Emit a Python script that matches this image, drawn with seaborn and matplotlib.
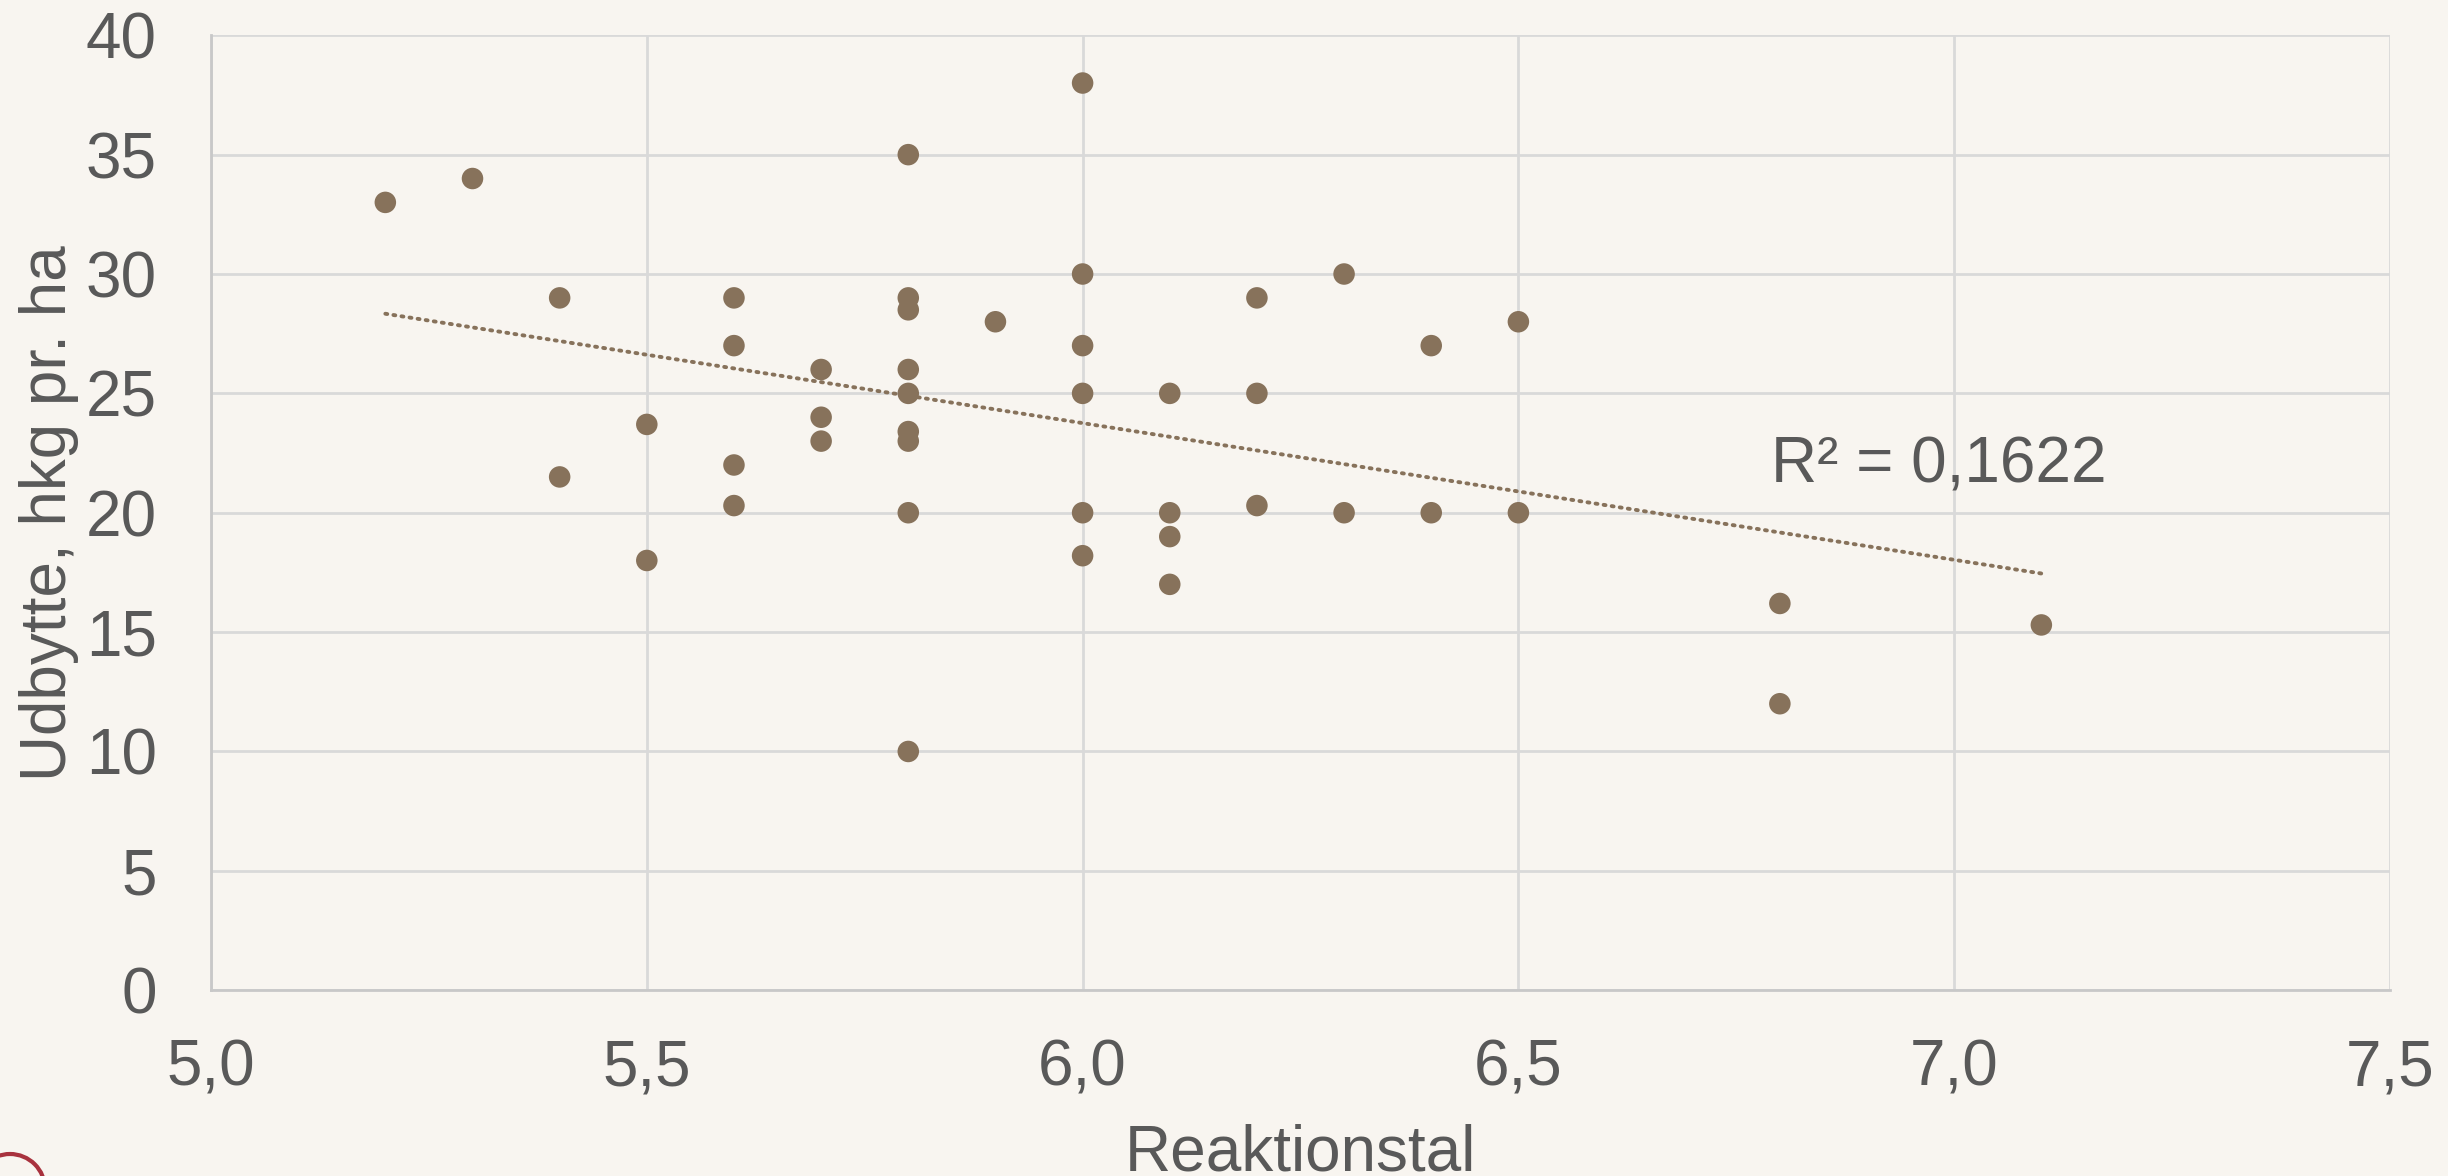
import numpy as np
import pandas as pd
import seaborn as sns
import matplotlib
matplotlib.use("Agg")
import matplotlib.pyplot as plt
from matplotlib.ticker import FuncFormatter
from matplotlib.patches import Circle

# Data
reaktionstal = [5.2, 5.3, 5.4, 5.4, 5.5, 5.5,
                5.6, 5.6, 5.6, 5.6,
                5.7, 5.7, 5.7,
                5.8, 5.8, 5.8, 5.8, 5.8, 5.8, 5.8, 5.8, 5.8,
                5.9,
                6.0, 6.0, 6.0, 6.0, 6.0, 6.0,
                6.1, 6.1, 6.1, 6.1,
                6.2, 6.2, 6.2,
                6.3, 6.3,
                6.4, 6.4,
                6.5, 6.5,
                6.8, 6.8,
                7.1]
udbytte = [33.0, 34.0, 29.0, 21.5, 23.7, 18.0,
           29.0, 27.0, 22.0, 20.3,
           26.0, 24.0, 23.0,
           35.0, 29.0, 28.5, 26.0, 25.0, 23.4, 23.0, 20.0, 10.0,
           28.0,
           38.0, 30.0, 27.0, 25.0, 20.0, 18.2,
           25.0, 20.0, 19.0, 17.0,
           29.0, 25.0, 20.3,
           30.0, 20.0,
           27.0, 20.0,
           28.0, 20.0,
           16.2, 12.0,
           15.3]
x_label = "Reaktionstal"
y_label = "Udbytte, hkg pr. ha"
r2_text = "R² = 0,1622"
x_ticks = [5.0, 5.5, 6.0, 6.5, 7.0, 7.5]
y_ticks = [0, 5, 10, 15, 20, 25, 30, 35, 40]

df = pd.DataFrame({"x": reaktionstal, "y": udbytte})

BG = "#F8F5F0"
PT = "#87725B"
GRID = "#D9D9D9"
TXT = "#595959"

sns.set_theme(style="white")
plt.rcParams["font.family"] = ["Liberation Sans", "DejaVu Sans"]

fig = plt.figure(figsize=(24.48, 11.76), dpi=100, facecolor=BG)
ax = fig.add_axes([0.0862, 0.158, 0.9763 - 0.0862, 0.970 - 0.158])
ax.set_facecolor(BG)

sns.scatterplot(data=df, x="x", y="y", ax=ax, color=PT, s=240,
                edgecolor="none", zorder=3, legend=False)

# linear trend line
slope, intercept = np.polyfit(df["x"], df["y"], 1)
xs = np.array([df["x"].min(), df["x"].max()])
ax.plot(xs, slope * xs + intercept, color=PT, lw=2.8,
        linestyle=(0, (0.5, 1.6)), dash_capstyle="round", zorder=2)

ax.text(6.79, 21.25, r2_text, fontsize=46, color=TXT, ha="left", va="baseline")

ax.set_xlim(5.0, 7.5)
ax.set_ylim(0, 40)
ax.set_xticks(x_ticks)
ax.set_yticks(y_ticks)
ax.xaxis.set_major_formatter(FuncFormatter(lambda v, p: f"{v:.1f}".replace(".", ",")))
ax.yaxis.set_major_formatter(FuncFormatter(lambda v, p: f"{v:.0f}"))
ax.grid(True, color=GRID, lw=2.0, zorder=0)
ax.set_axisbelow(True)
for s in ["top", "right"]:
    ax.spines[s].set_visible(False)
for s in ["left", "bottom"]:
    ax.spines[s].set_color("#C8C8C8")
    ax.spines[s].set_linewidth(2.0)
ax.tick_params(axis="both", length=0, labelsize=46, labelcolor=TXT)
ax.tick_params(axis="x", pad=35)
ax.tick_params(axis="y", pad=39)
ax.set_xlabel(x_label, fontsize=46, color=TXT, labelpad=18)
ax.set_ylabel(y_label, fontsize=46, color=TXT, labelpad=5)

# decorative red circle partially visible at bottom-left
fig.patches.append(Circle((10, -13), 35, transform=None, fill=False,
                          edgecolor="#A8323E", lw=3, figure=fig))

fig.savefig("out.png", dpi=100, facecolor=BG)
